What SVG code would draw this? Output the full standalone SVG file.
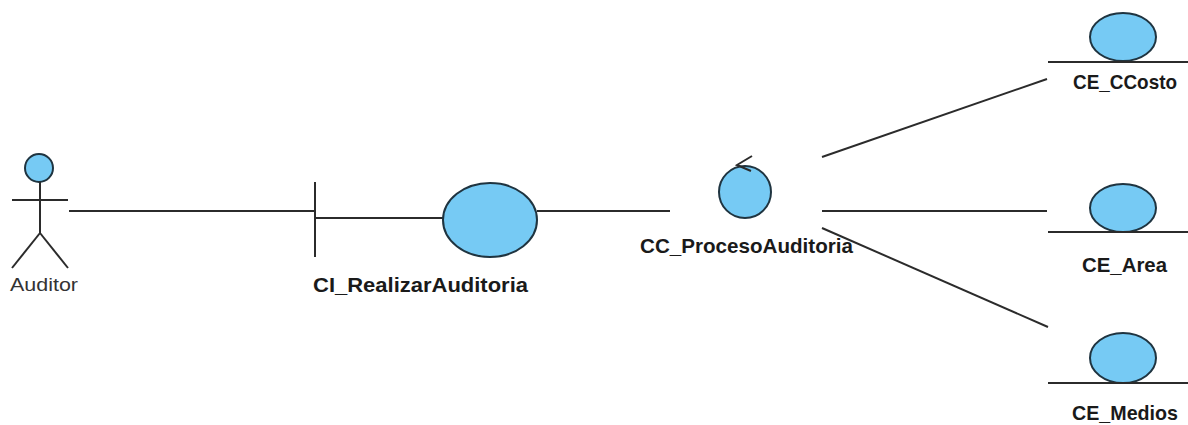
<svg xmlns="http://www.w3.org/2000/svg" width="1188" height="425" viewBox="0 0 1188 425">
  <style>
    .bg { fill: #ffffff; }
    .ln { stroke: #2b2b2b; stroke-width: 2; fill: none; }
    .shape { fill: #76caf4; stroke: #1f3440; stroke-width: 2; }
    .lbl { font-family: "Liberation Sans", Arial, sans-serif; font-weight: bold; font-size: 20.5px; fill: #1a1a1a; }
    .actor-lbl { font-family: "Liberation Sans", Arial, sans-serif; font-size: 19px; fill: #333333; }
  </style>
  <rect class="bg" x="0" y="0" width="1188" height="425"/>

  <!-- associations -->
  <g id="connectors">
    <line class="ln" x1="69" y1="211" x2="315" y2="211"/>
    <line class="ln" x1="537" y1="211" x2="670" y2="211"/>
    <line class="ln" x1="822" y1="157" x2="1047" y2="79"/>
    <line class="ln" x1="822" y1="211" x2="1047" y2="211"/>
    <line class="ln" x1="822" y1="228" x2="1048" y2="327"/>
  </g>

  <!-- actor -->
  <g id="Auditor">
    <circle class="shape" cx="39" cy="168" r="14"/>
    <line class="ln" x1="40" y1="182" x2="40" y2="233"/>
    <line class="ln" x1="12" y1="200" x2="68" y2="200"/>
    <line class="ln" x1="40" y1="233" x2="12" y2="268"/>
    <line class="ln" x1="40" y1="233" x2="68" y2="268"/>
    <text class="actor-lbl" x="10" y="291" textLength="68" lengthAdjust="spacingAndGlyphs">Auditor</text>
  </g>

  <!-- boundary -->
  <g id="CI_RealizarAuditoria">
    <line class="ln" x1="315" y1="182" x2="315" y2="257" stroke-width="3"/>
    <line class="ln" x1="315" y1="218" x2="444" y2="218"/>
    <ellipse class="shape" cx="490" cy="220" rx="47" ry="37"/>
    <text class="lbl" x="313" y="292" font-size="21.5" textLength="215" lengthAdjust="spacingAndGlyphs">CI_RealizarAuditoria</text>
  </g>

  <!-- control -->
  <g id="CC_ProcesoAuditoria">
    <circle class="shape" cx="745" cy="192" r="26"/>
    <polyline class="ln" points="752,156 737,165 751,171"/>
    <text class="lbl" x="640" y="253" textLength="213" lengthAdjust="spacingAndGlyphs">CC_ProcesoAuditoria</text>
  </g>

  <!-- entities -->
  <g id="CE_CCosto">
    <ellipse class="shape" cx="1123" cy="37" rx="33" ry="24"/>
    <line class="ln" x1="1048" y1="62" x2="1188" y2="62"/>
    <text class="lbl" x="1073" y="89" textLength="104" lengthAdjust="spacingAndGlyphs">CE_CCosto</text>
  </g>

  <g id="CE_Area">
    <ellipse class="shape" cx="1123" cy="208" rx="33" ry="24"/>
    <line class="ln" x1="1048" y1="232" x2="1188" y2="232"/>
    <text class="lbl" x="1082" y="272" textLength="85" lengthAdjust="spacingAndGlyphs">CE_Area</text>
  </g>

  <g id="CE_Medios">
    <ellipse class="shape" cx="1123" cy="358" rx="33" ry="25"/>
    <line class="ln" x1="1048" y1="383" x2="1188" y2="383"/>
    <text class="lbl" x="1072" y="420" textLength="106" lengthAdjust="spacingAndGlyphs">CE_Medios</text>
  </g>
</svg>
